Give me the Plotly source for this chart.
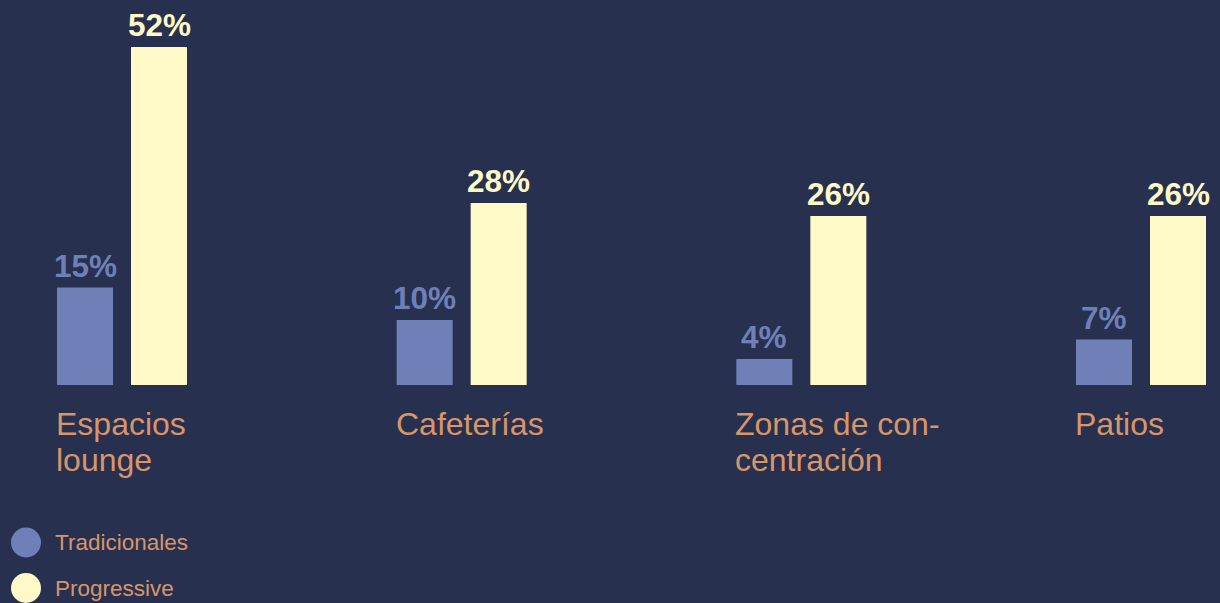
import plotly.graph_objects as go

# Share of respondents per space type
categories = ["Espacios<br>lounge", "Cafeterías", "Zonas de con-<br>centración", "Patios"]
tradicionales = [15, 10, 4, 7]
progressive = [52, 28, 26, 26]
series_names = ["Tradicionales", "Progressive"]

BG = "#27304e"
BLUE = "#6f80b9"
YELLOW = "#fff9c8"
ORANGE = "#d8956a"
FONT = "Liberation Sans, Arial, Helvetica, sans-serif"

W_PX, H_PX = 1220, 603
UNIT = 339.67           # pixels per category step
BAR_W = 56 / UNIT       # bar width in category units
OFF_A = -65 / UNIT      # left edge of first bar relative to category centre
OFF_B = 9 / UNIT        # left edge of second bar

x = list(range(len(categories)))

fig = go.Figure()
fig.add_trace(go.Bar(x=x, y=tradicionales, name=series_names[0], width=BAR_W, offset=OFF_A,
                     marker=dict(color=BLUE, line=dict(width=0))))
fig.add_trace(go.Bar(x=x, y=progressive, name=series_names[1], width=BAR_W, offset=OFF_B,
                     marker=dict(color=YELLOW, line=dict(width=0))))

annotations = []
for i, (a, b) in enumerate(zip(tradicionales, progressive)):
    annotations.append(dict(x=i + OFF_A + BAR_W / 2, y=a, xref="x", yref="y", text=f"{a}%",
                            showarrow=False, yanchor="bottom", yshift=2,
                            font=dict(family=FONT, size=31.5, color=BLUE, weight="bold")))
    annotations.append(dict(x=i + OFF_B + BAR_W / 2, y=b, xref="x", yref="y", text=f"{b}%",
                            showarrow=False, yanchor="bottom", yshift=2,
                            font=dict(family=FONT, size=31.5, color=YELLOW, weight="bold")))
    # category name, one annotation per line for tighter line spacing
    for k, line in enumerate(categories[i].split("<br>")):
        annotations.append(dict(x=i + OFF_A, y=0, xref="x", yref="y", text=line,
                                showarrow=False, xanchor="left", yanchor="top",
                                xshift=-2, yshift=-20 - 36 * k, borderpad=0,
                                font=dict(family=FONT, size=32, color=ORANGE)))

# Legend drawn as circles with labels
shapes = []
legend_rows = [(542.5, BLUE, series_names[0]), (588, YELLOW, series_names[1])]
for cy, col, label in legend_rows:
    r = 15
    shapes.append(dict(type="circle", xref="paper", yref="paper",
                       x0=(26 - r) / W_PX, x1=(26 + r) / W_PX,
                       y0=1 - (cy + r) / H_PX, y1=1 - (cy - r) / H_PX,
                       fillcolor=col, line=dict(width=0)))
    annotations.append(dict(x=54 / W_PX, y=1 - cy / H_PX, xref="paper", yref="paper",
                            text=label, showarrow=False, xanchor="left", yanchor="middle",
                            borderpad=0,
                            font=dict(family=FONT, size=22.5, color=ORANGE)))

base_px = 385
px_per_pct = 6.5
fig.update_layout(
    width=W_PX, height=H_PX,
    margin=dict(l=0, r=0, t=0, b=0),
    paper_bgcolor=BG, plot_bgcolor=BG,
    showlegend=False,
    xaxis=dict(visible=False, range=[-122 / UNIT, 3 + (W_PX - 1141) / UNIT]),
    yaxis=dict(visible=False, range=[-(H_PX - base_px) / px_per_pct, base_px / px_per_pct]),
    annotations=annotations,
    shapes=shapes,
)

fig.write_html("out.html")
